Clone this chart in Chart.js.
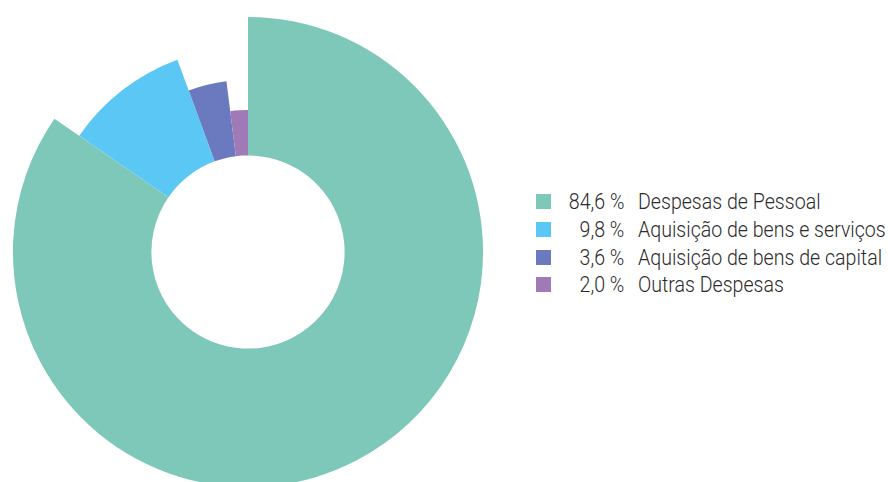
<!DOCTYPE html>
<html>
<head>
<meta charset="utf-8">
<script src="https://cdn.jsdelivr.net/npm/chart.js@4/dist/chart.umd.min.js"></script>
<style>
  html, body { margin: 0; padding: 0; background: #fff; }
  #wrap { position: relative; width: 888px; height: 482px; overflow: hidden; }
  #chart { position: absolute; left: 0; top: 0; }
  #legend {
    position: absolute; left: 536px; top: 188px;
    font-family: Roboto, "Noto Sans", sans-serif; font-weight: 300;
    font-size: 22px; color: #2b2b2b; white-space: nowrap;
  }
  .row { display: flex; align-items: center; height: 27.7px; }
  .sw { width: 15px; height: 15px; flex: none; }
  .pct { width: 73px; margin-right: 14px; display: flex; justify-content: flex-end; }
  .pct span { display: inline-block; transform: scaleX(0.89); transform-origin: right center; }
  .lab { display: inline-block; transform: scaleX(0.89); transform-origin: left center; }
</style>
</head>
<body>
<div id="wrap">
  <canvas id="chart" width="496" height="482"></canvas>
  <div id="legend"></div>
</div>
<script>
// Expenditure structure (share of total, %)
const categories = [
  'Despesas de Pessoal',
  'Aquisição de bens e serviços',
  'Aquisição de bens de capital',
  'Outras Despesas'
];
const shares = [84.6, 9.8, 3.6, 2.0];

// Slice colours and the relative outer radius of each slice
const sliceColors = ['#7EC8BA', '#5BC7F4', '#6B79BE', '#9F7AB6'];
const radiusScale = [1.022, 0.891, 0.748, 0.617];

const fmtPct = v => v.toFixed(1).replace('.', ',') + ' %';

// Give every arc its own outer radius, stepping down slice by slice
const steppedRadius = {
  id: 'steppedRadius',
  beforeDatasetsDraw(chart) {
    const meta = chart.getDatasetMeta(0);
    const base = meta.controller.outerRadius;
    meta.data.forEach((arc, i) => { arc.outerRadius = base * radiusScale[i]; });
  }
};

new Chart(document.getElementById('chart'), {
  type: 'doughnut',
  data: {
    labels: categories,
    datasets: [{
      data: shares,
      backgroundColor: sliceColors,
      borderWidth: 0
    }]
  },
  options: {
    responsive: false,
    animation: false,
    events: [],
    cutout: '42%',
    layout: { padding: { top: 22, bottom: 0, left: 0, right: 0 } },
    plugins: { legend: { display: false }, tooltip: { enabled: false } }
  },
  plugins: [steppedRadius]
});

// Legend
const legend = document.getElementById('legend');
categories.forEach((name, i) => {
  const row = document.createElement('div');
  row.className = 'row';
  const sw = document.createElement('span');
  sw.className = 'sw';
  sw.style.background = sliceColors[i];
  const pct = document.createElement('span');
  pct.className = 'pct';
  const pctText = document.createElement('span');
  pctText.textContent = fmtPct(shares[i]);
  pct.appendChild(pctText);
  const lab = document.createElement('span');
  lab.className = 'lab';
  lab.textContent = name;
  row.append(sw, pct, lab);
  legend.appendChild(row);
});
</script>
</body>
</html>
